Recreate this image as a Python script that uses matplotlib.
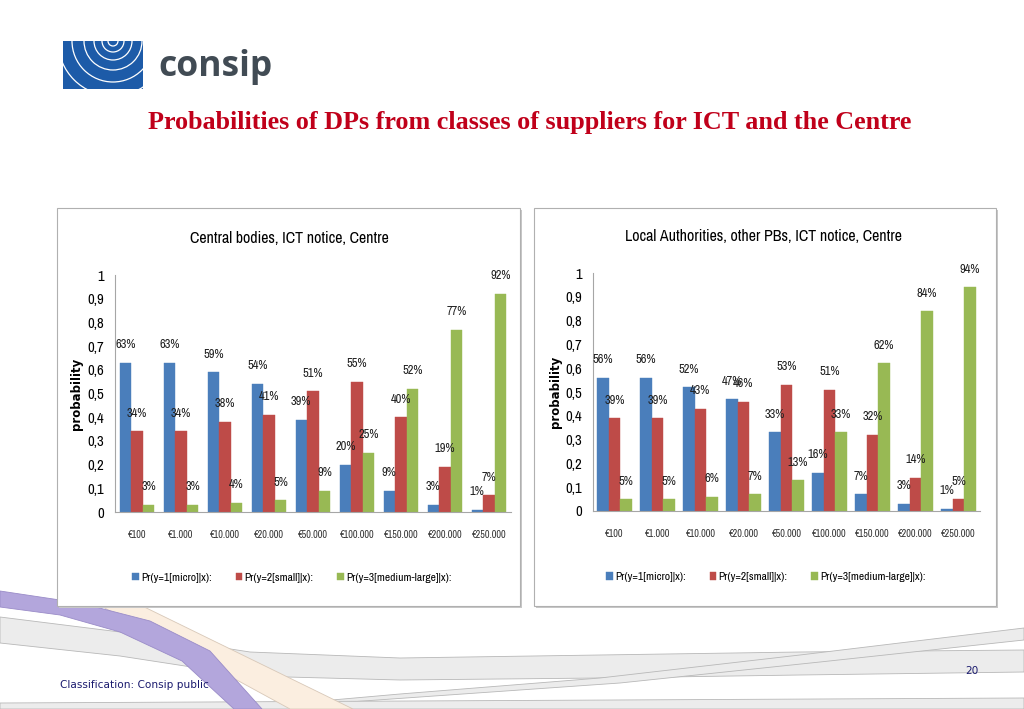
"""Probabilities of DPs from classes of suppliers (ICT notice, Centre) - two bar charts on a slide."""

import numpy as np
import matplotlib.pyplot as plt
from matplotlib.patches import Rectangle, Polygon, Circle

W, H = 1024, 709

# ---- data ----
thresholds = ["€100", "€1.000", "€10.000", "€20.000", "€50.000",
              "€100.000", "€150.000", "€200.000", "€250.000"]
series_names = ["Pr(y=1[micro]|x):", "Pr(y=2[small]|x):", "Pr(y=3[medium-large]|x):"]

central_micro = [63, 63, 59, 54, 39, 20, 9, 3, 1]
central_small = [34, 34, 38, 41, 51, 55, 40, 19, 7]
central_large = [3, 3, 4, 5, 9, 25, 52, 77, 92]

local_micro = [56, 56, 52, 47, 33, 16, 7, 3, 1]
local_small = [39, 39, 43, 46, 53, 51, 32, 14, 5]
local_large = [5, 5, 6, 7, 13, 33, 62, 84, 94]

colors = ["#4a7ebb", "#be4b48", "#98b954"]
y_ticks = [0, 0.1, 0.2, 0.3, 0.4, 0.5, 0.6, 0.7, 0.8, 0.9, 1]
y_tick_labels = ["0", "0,1", "0,2", "0,3", "0,4", "0,5", "0,6", "0,7", "0,8", "0,9", "1"]

NARROW = ["Archivo Narrow", "Barlow Semi Condensed", "Carlito", "DejaVu Sans"]


def px(x, y):
    """pixel (from top-left) -> figure fraction"""
    return x / W, 1 - y / H


def rect(x0, y0, x1, y1):
    fx, fy = px(x0, y1)
    return [fx, fy, (x1 - x0) / W, (y1 - y0) / H]


def poly(points, **kw):
    return Polygon([px(x, y) for x, y in points], closed=True,
                   transform=fig.transFigure, zorder=-1, **kw)


fig = plt.figure(figsize=(W / 100, H / 100), dpi=100)
fig.patch.set_facecolor("white")

# ---- background swooshes ----
gray_kw = dict(facecolor="#ececec", edgecolor="#b8b8b8", linewidth=0.6)
fig.patches.append(poly([(0, 617), (120, 632), (250, 652), (400, 658), (600, 655), (800, 652), (1024, 650),
                         (1024, 672), (800, 675), (600, 678), (400, 680), (250, 676), (120, 656), (0, 643)],
                        **gray_kw))
fig.patches.append(poly([(1024, 628), (800, 655), (600, 678), (400, 694), (230, 709),
                         (250, 709), (420, 697), (620, 683), (820, 662), (1024, 640)], **gray_kw))
fig.patches.append(poly([(0, 703), (1024, 698), (1024, 709), (0, 709)], **gray_kw))
fig.patches.append(poly([(90, 600), (130, 600), (353, 709), (290, 709)],
                        facecolor="#fbeee0", edgecolor="#d8c8b8", linewidth=0.6))
fig.patches.append(poly([(0, 591), (80, 603), (150, 621), (210, 651), (262, 709),
                         (234, 709), (182, 661), (120, 632), (60, 615), (0, 607)],
                        facecolor="#b3a6dc", edgecolor="#9a8cc8", linewidth=0.6))

# ---- logo ----
logo = fig.add_axes(rect(63, 41, 143, 89))
logo.set_xlim(0, 80)
logo.set_ylim(48, 0)
logo.set_axis_off()
square = Rectangle((0, 0), 80, 48, facecolor="#1d5ba8", edgecolor="none")
logo.add_patch(square)
for r in (5, 11, 19, 29, 41, 55):
    c = Circle((50, 0), r, facecolor="none", edgecolor="white", linewidth=0.9)
    logo.add_patch(c)
    c.set_clip_path(square)
fig.text(*px(158, 67), "consip", fontsize=25.5, fontweight="bold", color="#414b54",
         family="Open Sans", va="center", ha="left")

fig.text(*px(530, 123), "Probabilities of DPs from classes of suppliers for ICT and the Centre",
         fontsize=18.8, fontweight="bold", color="#c0001a", family="Liberation Serif",
         ha="center", va="center")

# ---- chart panels ----
panels = [
    ((57, 208, 520, 606), (115, 275, 511, 512), "Central bodies, ICT notice, Centre",
     [central_micro, central_small, central_large]),
    ((534, 208, 996, 606), (593, 273, 980, 511), "Local Authorities, other PBs, ICT notice, Centre",
     [local_micro, local_small, local_large]),
]

for (bx0, by0, bx1, by1), (ax0, ay0, ax1, ay1), title, series in panels:
    fig.patches.append(Rectangle(px(bx0 + 2, by1 + 2), (bx1 - bx0) / W, (by1 - by0) / H,
                                 transform=fig.transFigure, facecolor="#c8c8c8",
                                 edgecolor="none", zorder=0))
    fig.patches.append(Rectangle(px(bx0, by1), (bx1 - bx0) / W, (by1 - by0) / H,
                                 transform=fig.transFigure, facecolor="white",
                                 edgecolor="#b0b0b0", linewidth=0.8, zorder=0.5))

    ax = fig.add_axes(rect(ax0, ay0, ax1, ay1), zorder=2)
    ax.patch.set_alpha(0)
    x = np.arange(len(thresholds))
    width = 0.265
    for i, (vals, col, name) in enumerate(zip(series, colors, series_names)):
        v = np.array(vals) / 100
        pos = x + (i - 1) * width
        ax.bar(pos, v, width, color=col, edgecolor=col, linewidth=0.3, label=name)
        for xp, val, lab in zip(pos, v, vals):
            ax.annotate(f"{lab}%", (xp, val), xytext=(0, 13), textcoords="offset points",
                        ha="center", va="center", fontsize=9, family=NARROW,
                        color="#202020", annotation_clip=False)
    ax.set_xlim(-0.5, len(thresholds) - 0.5)
    ax.set_ylim(0, 1)
    ax.set_yticks(y_ticks)
    ax.set_yticklabels(y_tick_labels, family=NARROW, fontsize=10.5)
    ax.set_xticks(x)
    ax.set_xticklabels(thresholds, family=NARROW, fontsize=7.3, color="#333333")
    ax.tick_params(axis="x", length=0, pad=13)
    ax.tick_params(axis="y", length=0, pad=8)
    for s in ("top", "right"):
        ax.spines[s].set_visible(False)
    for s in ("left", "bottom"):
        ax.spines[s].set_color("#a6a6a6")
        ax.spines[s].set_linewidth(0.8)
    ax.set_ylabel("probability", fontsize=8.5, fontweight="bold")
    ax.yaxis.set_label_coords(-0.08, 0.5)
    ax.text(0.44, 1.155, title, transform=ax.transAxes, family=NARROW, fontsize=11.5,
            ha="center", va="center")
    ax.legend(loc="center", bbox_to_anchor=(0.447, -0.278), ncol=3, frameon=False,
              prop={"family": NARROW, "size": 8.3}, handlelength=0.6, handleheight=0.6,
              handletextpad=0.2, columnspacing=2.0)

# ---- footer ----
fig.text(*px(60, 685), "Classification: Consip public", fontsize=7.6, color="#1a1a6e",
         ha="left", va="center")
fig.text(*px(972, 671), "20", fontsize=7.6, color="#1a1a6e", ha="center", va="center")

fig.savefig("out.png", dpi=100)
